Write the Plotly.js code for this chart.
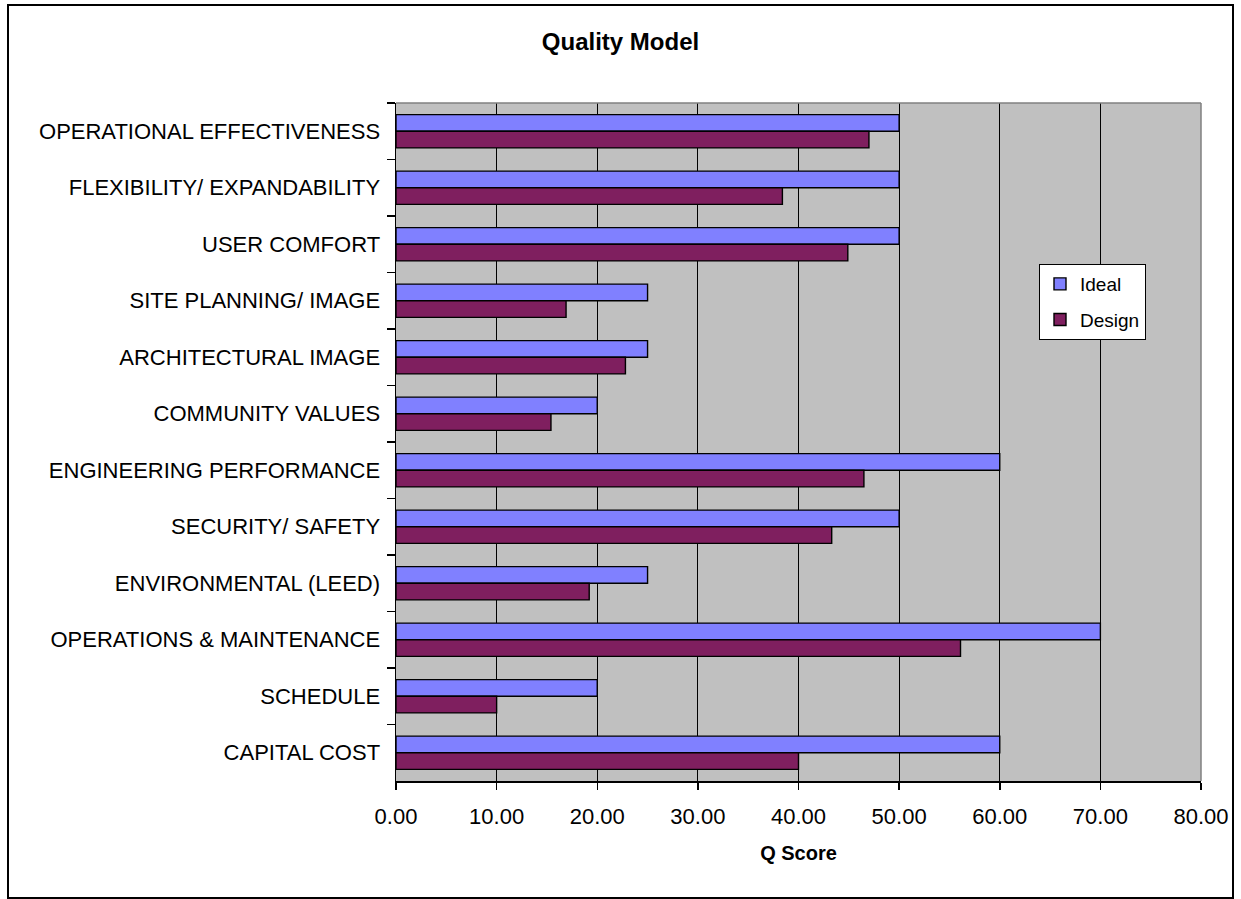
<!DOCTYPE html>
<html>
<head>
<meta charset="utf-8">
<script src="https://cdn.plot.ly/plotly-3.0.1.min.js"></script>
<style>
  html, body { margin: 0; padding: 0; background: #ffffff; }
  #chart { width: 1241px; height: 899px; position: absolute; left: 0; top: 0; }
  #frame { position: absolute; left: 7px; top: 4px; width: 1223px; height: 891px;
           border: 2px solid #000; pointer-events: none; }
</style>
</head>
<body>
<div id="chart"></div>
<div id="frame"></div>
<script>
const categories = [
  "OPERATIONAL EFFECTIVENESS",
  "FLEXIBILITY/ EXPANDABILITY",
  "USER COMFORT",
  "SITE PLANNING/ IMAGE",
  "ARCHITECTURAL IMAGE",
  "COMMUNITY VALUES",
  "ENGINEERING PERFORMANCE",
  "SECURITY/ SAFETY",
  "ENVIRONMENTAL (LEED)",
  "OPERATIONS & MAINTENANCE",
  "SCHEDULE",
  "CAPITAL COST"
];
const idealValues  = [50, 50, 50, 25, 25, 20, 60, 50, 25, 70, 20, 60];
const designValues = [47.0, 38.4, 44.9, 16.9, 22.8, 15.4, 46.5, 43.3, 19.2, 56.1, 10.0, 40.0];
const xTickValues = [0, 10, 20, 30, 40, 50, 60, 70, 80];

const FONT = "Liberation Sans, Arial, sans-serif";

const traces = [
  {
    type: "bar", orientation: "h", name: "Ideal",
    y: categories, x: idealValues,
    legendgroup: "a",
    marker: { color: "#8080FF", line: { color: "#000000", width: 1.4 } },
    hoverinfo: "x+name"
  },
  {
    type: "bar", orientation: "h", name: "Design",
    y: categories, x: designValues,
    legendgroup: "b",
    marker: { color: "#7F1F5F", line: { color: "#000000", width: 1.4 } },
    hoverinfo: "x+name"
  }
];

const layout = {
  width: 1241, height: 899,
  margin: { l: 396, r: 40, t: 103, b: 118 },
  paper_bgcolor: "rgba(0,0,0,0)",
  plot_bgcolor: "#C0C0C0",
  font: { family: FONT, size: 22, color: "#000" },
  barmode: "group",
  bargap: 0.41,
  bargroupgap: 0,
  title: {
    text: "<b>Quality Model</b>",
    font: { family: FONT, size: 24, color: "#000" },
    xref: "container", x: 0.5, xanchor: "center",
    yref: "container", y: 1 - 42 / 899, yanchor: "middle"
  },
  xaxis: {
    range: [0, 80],
    tickvals: xTickValues,
    tickformat: ".2f",
    showgrid: true, gridcolor: "#000000", gridwidth: 1,
    zeroline: false,
    showline: true, linecolor: "#000000", linewidth: 1.5,
    ticks: "outside", ticklen: 7, tickcolor: "#000", tickwidth: 1.5,
    tickfont: { family: FONT, size: 22, color: "#000" },
    ticklabelstandoff: 8,
    title: { text: "<b>Q Score</b>", font: { family: FONT, size: 20, color: "#000" }, standoff: 18 },
    fixedrange: true
  },
  yaxis: {
    type: "category",
    autorange: "reversed",
    showgrid: false,
    zeroline: false,
    showline: true, linecolor: "#000000", linewidth: 1.5,
    ticks: "outside", ticklen: 8, tickcolor: "#000", tickwidth: 1.5,
    tickson: "boundaries",
    tickfont: { family: FONT, size: 22, color: "#000" },
    ticklabelstandoff: 10,
    fixedrange: true
  },
  shapes: [
    { type: "line", xref: "paper", yref: "paper", x0: 0, x1: 1, y0: 1, y1: 1,
      line: { color: "#808080", width: 1.5 } },
    { type: "line", xref: "paper", yref: "paper", x0: 1, x1: 1, y0: 0, y1: 1,
      line: { color: "#808080", width: 1.5 } }
  ],
  legend: {
    x: (1039 - 396) / 805, xanchor: "left",
    y: (781 - 264) / 678, yanchor: "top",
    bgcolor: "#ffffff",
    bordercolor: "#000000", borderwidth: 1,
    font: { family: FONT, size: 19, color: "#000" },
    traceorder: "grouped",
    tracegroupgap: 8,
    itemwidth: 30
  },
  showlegend: true
};

Plotly.newPlot("chart", traces, layout, { displayModeBar: false, staticPlot: true });
</script>
</body>
</html>
